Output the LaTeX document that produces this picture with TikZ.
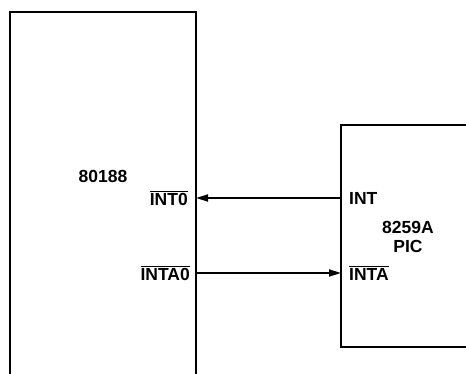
\documentclass[tikz,border=0pt]{standalone}
\usepackage{fontspec}
\setmainfont{Liberation Sans}
\usetikzlibrary{arrows.meta}
\newcommand{\ovl}[1]{$\overline{\mbox{#1}}$}
\begin{document}
\begin{tikzpicture}[x=1pt,y=-1pt,
  box/.style={line width=2.8pt},
  sig/.style={line width=1.8pt,-{Triangle[length=12pt,width=7pt]}},
  lbl/.style={font=\fontsize{17.5}{19}\selectfont\bfseries,inner sep=0pt}]
\useasboundingbox (0,0) rectangle (466,374);
% 80188 box (open at bottom)
\draw[box] (10,380) -- (10,12) -- (196,12) -- (196,380);
% 8259A box (open at right)
\draw[box] (475,125) -- (341,125) -- (341,347) -- (475,347);
\coordinate (cpuA) at (196,198);
\coordinate (picA) at (341,198);
\coordinate (cpuB) at (196,273);
\coordinate (picB) at (341,273);
\node[lbl] (cpu) at (103,176) {80188};
\node[lbl,anchor=east] (int0) at (188,198) {\ovl{INT0}};
\node[lbl,anchor=east] (inta0) at (190,273) {\ovl{INTA0}};
\node[lbl,anchor=west] (int) at (349,198) {INT};
\node[lbl,anchor=west] (inta) at (349,273) {\ovl{INTA}};
\node[lbl,align=center] (pic) at (408,237) {8259A\\PIC};
\draw[sig] (picA) -- (cpuA);
\draw[sig] (cpuB) -- (picB);
\end{tikzpicture}
\end{document}
